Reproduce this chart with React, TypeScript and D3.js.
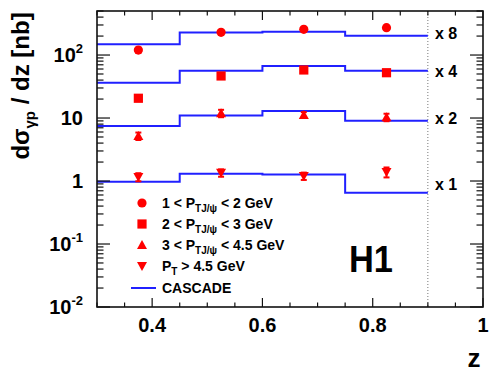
import React from "react";
import * as d3 from "d3";

const binEdges = [0.3, 0.45, 0.6, 0.75, 0.9];
const zCenters = [0.375, 0.525, 0.675, 0.825];

const cascadeX8 = [148, 227, 235, 203];
const cascadeX4 = [36.4, 56.5, 67, 56.5];
const cascadeX2 = [7.46, 11.0, 12.9, 9.06];
const cascadeX1 = [0.97, 1.3, 1.27, 0.65];

const pt1to2 = [120, 229, 256, 272];
const pt1to2Err = [10, 14, 15, 17];
const pt2to3 = [20.6, 46.5, 57.9, 52.4];
const pt2to3Err = [2.0, 4.0, 5.0, 5.0];
const pt3to45 = [5.18, 11.9, 11.2, 10.3];
const pt3to45Err = [0.7, 1.6, 1.2, 1.4];
const ptAbove45 = [1.16, 1.35, 1.2, 1.39];
const ptAbove45Err = [0.17, 0.18, 0.16, 0.25];

const scaleLabels = ["x 8", "x 4", "x 2", "x 1"];
const xTickLabels = [0.4, 0.6, 0.8, 1];
const yTickDecades = [-2, -1, 0, 1, 2];

const W = 498, H = 378;
const L = 97, R = 483, T = 11, B = 307;

export default function App() {
  const x = d3.scaleLinear().domain([0.3, 1]).range([L, R]);
  const y = d3.scaleLog().domain([0.01, 500]).range([B, T]);

  const step = (vals: number[]) => {
    const pts: [number, number][] = binEdges.map((e, i) => [e, vals[Math.min(i, vals.length - 1)]]);
    return d3.line<[number, number]>().x(d => x(d[0])).y(d => y(d[1])).curve(d3.curveStepAfter)(pts) || "";
  };

  const red = "#ff0000";
  const blue = "#2020ff";
  const font = "Liberation Sans, Arial, Helvetica, sans-serif";

  const marker = (type: string, cx: number, cy: number, key: string) => {
    const s = 4.6;
    if (type === "circle") return <circle key={key} cx={cx} cy={cy} r={s} fill={red} />;
    if (type === "square") return <rect key={key} x={cx - s} y={cy - s} width={2 * s} height={2 * s} fill={red} />;
    if (type === "up") return <path key={key} d={`M${cx - 5},${cy + 4} L${cx + 5},${cy + 4} L${cx},${cy - 5} Z`} fill={red} />;
    return <path key={key} d={`M${cx - 5},${cy - 4} L${cx + 5},${cy - 4} L${cx},${cy + 5} Z`} fill={red} />;
  };

  const series = [
    { vals: pt1to2, errs: pt1to2Err, type: "circle" },
    { vals: pt2to3, errs: pt2to3Err, type: "square" },
    { vals: pt3to45, errs: pt3to45Err, type: "up" },
    { vals: ptAbove45, errs: ptAbove45Err, type: "down" },
  ];
  const cascades = [cascadeX8, cascadeX4, cascadeX2, cascadeX1];

  // ticks
  const xMinor = d3.range(0.3, 1.0001, 0.05);
  const yMinorVals: number[] = [];
  for (let d = -2; d <= 2; d++) {
    for (let m = 1; m <= 9; m++) {
      const v = m * Math.pow(10, d);
      if (v <= 500 && v >= 0.01) yMinorVals.push(v);
    }
  }

  const legendItems = [
    { type: "circle", lo: "1 < P", sub: "TJ/ψ", hi: " < 2 GeV" },
    { type: "square", lo: "2 < P", sub: "TJ/ψ", hi: " < 3 GeV" },
    { type: "up", lo: "3 < P", sub: "TJ/ψ", hi: " < 4.5 GeV" },
    { type: "down", lo: "P", sub: "T", hi: " > 4.5 GeV" },
  ];
  const legendY = [203, 224, 245, 266];

  return (
    <svg width={W} height={H} style={{ position: "absolute", left: 0, top: 0, background: "#fff" }} fontFamily={font}>
      <rect x={0} y={0} width={W} height={H} fill="#fff" />
      {/* dotted line at z=0.9 */}
      <line x1={x(0.9)} x2={x(0.9)} y1={T} y2={B} stroke="#777" strokeWidth={1} strokeDasharray="1,2" />

      {/* cascade steps */}
      {cascades.map((c, i) => (
        <path key={"c" + i} d={step(c)} fill="none" stroke={blue} strokeWidth={2} />
      ))}

      {/* data points */}
      {series.map((s, si) =>
        s.vals.map((v, i) => {
          const cx = x(zCenters[i]);
          const cy = y(v);
          const y1 = y(v + s.errs[i]);
          const y2 = y(Math.max(v - s.errs[i], 1e-3));
          return (
            <g key={`p${si}-${i}`}>
              <line x1={cx} x2={cx} y1={y1} y2={y2} stroke={red} strokeWidth={2} />
              <line x1={cx - 3} x2={cx + 3} y1={y1} y2={y1} stroke={red} strokeWidth={2} />
              <line x1={cx - 3} x2={cx + 3} y1={y2} y2={y2} stroke={red} strokeWidth={2} />
              {marker(s.type, cx, cy, "m")}
            </g>
          );
        })
      )}

      {/* scale labels */}
      {scaleLabels.map((t, i) => (
        <text key={t} x={435} y={[39, 77, 123.5, 190][i]} fontSize={16} fontWeight="bold">
          {t}
        </text>
      ))}

      {/* frame */}
      <rect x={L} y={T} width={R - L} height={B - T} fill="none" stroke="#111" strokeWidth={1.6} />

      {/* x ticks */}
      {xMinor.map((v, i) => {
        const major = Math.abs((v * 10) % 2) < 0.01 || Math.abs((v * 10) % 2 - 2) < 0.01;
        const len = major ? 9 : 4.5;
        const px = x(v);
        return (
          <g key={"xt" + i}>
            <line x1={px} x2={px} y1={B} y2={B - len} stroke="#111" strokeWidth={1.2} />
            <line x1={px} x2={px} y1={T} y2={T + len} stroke="#111" strokeWidth={1.2} />
          </g>
        );
      })}
      {xTickLabels.map(v => (
        <text key={"xl" + v} x={x(v)} y={332} fontSize={20} fontWeight="bold" textAnchor="middle">
          {String(v)}
        </text>
      ))}

      {/* y ticks */}
      {yMinorVals.map((v, i) => {
        const major = Math.abs(Math.log10(v) - Math.round(Math.log10(v))) < 1e-6;
        const len = major ? 13 : 6.5;
        const py = y(v);
        return (
          <g key={"yt" + i}>
            <line x1={L} x2={L + len} y1={py} y2={py} stroke="#111" strokeWidth={1.2} />
            <line x1={R} x2={R - len} y1={py} y2={py} stroke="#111" strokeWidth={1.2} />
          </g>
        );
      })}
      {yTickDecades.map(d => {
        const py = y(Math.pow(10, d)) + 7;
        if (d === 0) return <text key="yl0" x={83} y={py} fontSize={20} fontWeight="bold" textAnchor="end">1</text>;
        if (d === 1) return <text key="yl1" x={83} y={py} fontSize={20} fontWeight="bold" textAnchor="end">10</text>;
        return (
          <text key={"yl" + d} x={83} y={py} fontSize={20} fontWeight="bold" textAnchor="end">
            10<tspan fontSize={13} dy={-9}>{String(d)}</tspan>
          </text>
        );
      })}

      {/* axis titles */}
      <text x={474} y={367} fontSize={26} fontWeight="bold" textAnchor="middle">z</text>
      <text
        transform={`translate(29,86) rotate(-90)`}
        fontSize={24}
        fontWeight="bold"
        textAnchor="middle"
      >
        dσ<tspan fontSize={15} dy={6}>γp</tspan>
        <tspan dy={-6}> / dz [nb]</tspan>
      </text>

      {/* legend */}
      {legendItems.map((it, i) => (
        <g key={"lg" + i}>
          {marker(it.type, 142, legendY[i], "lm")}
          <text x={162} y={legendY[i] + 5} fontSize={14} fontWeight="bold">
            {it.lo}
            <tspan fontSize={10} dy={4}>{it.sub}</tspan>
            <tspan dy={-4}>{it.hi}</tspan>
          </text>
        </g>
      ))}
      <line x1={131} x2={156} y1={288} y2={288} stroke={blue} strokeWidth={2} />
      <text x={162} y={293} fontSize={14} fontWeight="bold">CASCADE</text>

      {/* H1 */}
      <text x={371} y={272} fontSize={37} fontWeight="bold" textAnchor="middle" textLength={44} lengthAdjust="spacingAndGlyphs">H1</text>
    </svg>
  );
}
